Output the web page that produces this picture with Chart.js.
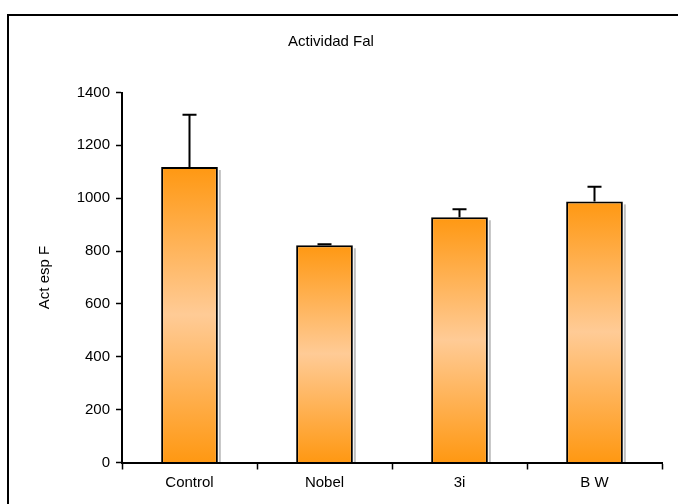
<!DOCTYPE html>
<html>
<head>
<meta charset="utf-8">
<script src="https://cdn.jsdelivr.net/npm/chart.js@4.4.0/dist/chart.umd.min.js"></script>
<style>
  body { margin: 0; background: #fff; }
  #wrap { position: relative; width: 678px; height: 504px; overflow: hidden; }
  #frame { position: absolute; left: 7px; top: 14px; width: 720px; height: 540px; border: 2px solid #000; }
  #grafica { position: absolute; left: 0; top: 0; }
</style>
</head>
<body>
<div id="wrap">
  <div id="frame"></div>
  <canvas id="grafica" width="678" height="504"></canvas>
</div>
<script>
// Datos
const categorias = ['Control', 'Nobel', '3i', 'B W'];
const actividad = [1118, 822, 928, 988];
const errorSup = [198, 4, 30, 55];
const titulo = 'Actividad Fal';
const tituloEjeY = 'Act esp F';

const fuente = 'Liberation Sans, Arial, sans-serif';

// Degradado vertical de cada barra: naranja arriba y abajo, claro en el centro
function degradado(context) {
    const chart = context.chart;
    const area = chart.chartArea;
    if (!area || context.dataIndex === undefined) return '#FF9A1A';
    const y = chart.scales.y;
    const top = y.getPixelForValue(actividad[context.dataIndex]);
    const bottom = y.getPixelForValue(0);
    const g = chart.ctx.createLinearGradient(0, top, 0, bottom);
    g.addColorStop(0, '#FF9812');
    g.addColorStop(0.5, '#FFCB96');
    g.addColorStop(1, '#FF9812');
    return g;
}

// Sombra gris a la derecha de las barras + barras de error
const extras = {
    id: 'extras',
    beforeDatasetsDraw(chart) {
        const c = chart.ctx;
        const meta = chart.getDatasetMeta(0);
        c.save();
        c.fillStyle = 'rgba(150,150,150,0.6)';
        meta.data.forEach(bar => {
            const right = bar.x + bar.width / 2;
            c.fillRect(right + 1, bar.y + 3, 2, bar.base - bar.y - 3);
        });
        c.restore();
    },
    afterDatasetsDraw(chart) {
        const c = chart.ctx;
        const y = chart.scales.y;
        const meta = chart.getDatasetMeta(0);
        c.save();
        c.strokeStyle = '#000';
        c.lineWidth = 2;
        meta.data.forEach((bar, i) => {
            const y0 = y.getPixelForValue(actividad[i]);
            const y1 = y.getPixelForValue(actividad[i] + errorSup[i]);
            c.beginPath();
            c.moveTo(bar.x, y0);
            c.lineTo(bar.x, y1);
            c.moveTo(bar.x - 7, y1);
            c.lineTo(bar.x + 7, y1);
            c.stroke();
        });
        c.restore();
    }
};

new Chart(document.getElementById('grafica'), {
    type: 'bar',
    data: {
        labels: categorias,
        datasets: [{
            data: actividad,
            backgroundColor: degradado,
            borderColor: '#000',
            borderWidth: 2,
            categoryPercentage: 1,
            barPercentage: 0.42
        }]
    },
    options: {
        responsive: false,
        animation: false,
        layout: { padding: { left: 0, right: 16, top: 0, bottom: 0 } },
        plugins: {
            legend: { display: false },
            tooltip: { enabled: false },
            title: {
                display: true,
                text: titulo,
                color: '#000',
                font: { family: fuente, size: 15, weight: 'normal', lineHeight: 1.2 },
                padding: { top: 33, bottom: 41.5 }
            }
        },
        scales: {
            x: {
                afterFit: s => { s.height = 41.5; },
                grid: { drawOnChartArea: false, drawTicks: true, tickLength: 7, tickWidth: 1.5, tickColor: '#000' },
                border: { display: true, color: '#000', width: 2 },
                ticks: { color: '#000', padding: 4, font: { family: fuente, size: 15 } }
            },
            y: {
                min: 0,
                max: 1400,
                afterFit: s => { s.width = 122; },
                ticks: {
                    stepSize: 200, color: '#000', padding: 6,
                    font: { family: fuente, size: 15 },
                    callback: v => String(v)
                },
                grid: { drawOnChartArea: false, drawTicks: true, tickLength: 6, tickWidth: 1.5, tickColor: '#000' },
                border: { display: true, color: '#000', width: 2 },
                title: {
                    display: true,
                    text: tituloEjeY,
                    color: '#000',
                    font: { family: fuente, size: 15, lineHeight: 1.2 },
                    padding: { top: 36, bottom: 0 }
                }
            }
        }
    },
    plugins: [extras]
});
</script>
</body>
</html>
